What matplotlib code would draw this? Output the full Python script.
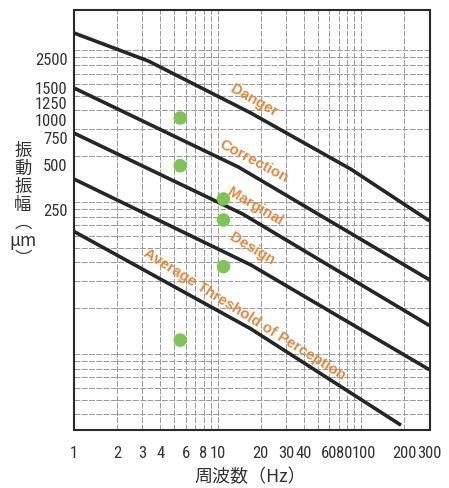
import matplotlib
matplotlib.use('Agg')
import matplotlib.pyplot as plt
from matplotlib import font_manager
from matplotlib.font_manager import FontProperties
from matplotlib.ticker import FixedLocator, FixedFormatter, NullFormatter
from matplotlib.transforms import ScaledTranslation

# ---------------- data ----------------
x_ticks = [1, 2, 3, 4, 6, 8, 10, 20, 30, 40, 60, 80, 100, 200, 300]
x_ticklabels = ['1', '2', '3', '4', '6', '8', '10', '20', '30', '40', '60', '80', '100', '200', '300']
x_minor = [5, 7, 9, 50, 70, 90]
y_ticks = [2500, 1500, 1250, 1000, 750, 500, 250]
y_ticklabels = ['2500', '1500', '1250', '1000', '750', '500', '250']

danger_f = [1, 3.3, 17, 85, 300]
danger_amp = [3625, 2370, 1080, 460, 210]
correction_f = [1, 14, 300]
correction_amp = [1575, 475, 86]
marginal_f = [1, 15, 300]
marginal_amp = [795, 233, 43]
design_f = [1, 17, 300]
design_amp = [396, 108, 22]
threshold_f = [1, 17, 190]
threshold_amp = [179, 41, 9.5]

point_f = [5.5, 5.5, 11, 11, 11, 5.5]
point_amp = [1000, 485, 293, 213, 105, 34.5]

zone_names = ['Danger', 'Correction', 'Marginal', 'Design', 'Average Threshold of Perception']
zone_label_f = [17.8, 18.0, 18.3, 17.3, 15.5]
zone_label_amp = [1320, 530, 265, 139, 52]
zone_label_rot = [-29.5, -28.0, -30.5, -31.0, -32.0]

# ---------------- fonts ----------------
def pick_narrow():
    prefs = ['Liberation Sans Narrow', 'Roboto Condensed', 'Open Sans Condensed',
             'Noto Sans Condensed', 'DejaVu Sans Condensed']
    entries = font_manager.fontManager.ttflist
    def is_regular(f):
        return f.style == 'normal' and f.weight in (400, 'normal', 'regular')
    for p in prefs:
        for f in entries:
            if f.name == p and is_regular(f):
                return FontProperties(fname=f.fname)
    for name in ['Roboto', 'Noto Sans', 'Open Sans', 'DejaVu Sans']:
        for f in entries:
            if f.name == name and is_regular(f) and 'condensed' in str(f.stretch):
                return FontProperties(fname=f.fname)
    for f in entries:
        if is_regular(f) and ('Narrow' in f.name or 'Condensed' in f.name
                              or 'condensed' in str(f.stretch)):
            return FontProperties(fname=f.fname)
    return FontProperties(family='Liberation Sans')

tick_font = pick_narrow()
tick_font.set_size(12)
cjk = ['Noto Sans CJK JP', 'DejaVu Sans']

line_color = '#262626'
grid_color = '#999999'
label_color = '#e0893a'
dot_color = '#7cc653'

fig = plt.figure(figsize=(4.49, 4.89), dpi=100)
fig.patch.set_facecolor('white')
ax = fig.add_axes([74 / 449, 1 - 431 / 489, 355.5 / 449, 420 / 489])
ax.set_xscale('log')
ax.set_yscale('log')
ax.set_xlim(1, 300)
ax.set_ylim(8.83, 5137)

ax.xaxis.set_major_locator(FixedLocator(x_ticks))
ax.xaxis.set_major_formatter(FixedFormatter(x_ticklabels))
ax.xaxis.set_minor_locator(FixedLocator(x_minor))
ax.xaxis.set_minor_formatter(NullFormatter())

# horizontal graph-paper grid (paper decades offset from the labels)
paper_base = 28.0
y_paper = [paper_base * m * 10.0 ** n for n in (-1, 0, 1, 2) for m in range(1, 10)]
y_paper = [v for v in y_paper if 8.83 < v < 5137]
ax.yaxis.set_major_locator(FixedLocator(y_ticks))
ax.yaxis.set_major_formatter(FixedFormatter(y_ticklabels))
ax.yaxis.set_minor_locator(FixedLocator(y_paper))
ax.yaxis.set_minor_formatter(NullFormatter())

gkw = dict(color=grid_color, linewidth=0.7, linestyle=(0, (6, 1.5)))
ax.grid(True, which='both', axis='x', **gkw)
ax.grid(True, which='minor', axis='y', **gkw)
ax.grid(False, which='major', axis='y')

ax.tick_params(which='both', length=0)
ax.tick_params(axis='y', which='major', pad=4.5)
ax.tick_params(axis='x', which='major', pad=10.5)

for s in ax.spines.values():
    s.set_linewidth(1.5)
    s.set_color('#2a2a2a')

# cosmetic nudges of crowded labels, as they sit in the reference
x_nudge = {'80': -3, '100': 3}
y_nudge = {'1500': 4.5, '1250': 1, '1000': -1.5}
for tick, txt in zip(ax.xaxis.get_major_ticks(), x_ticklabels):
    tick.label1.set_fontproperties(tick_font)
    tick.label1.set_color('#333333')
    if txt in x_nudge:
        tick.label1.set_transform(tick.label1.get_transform() +
                                  ScaledTranslation(x_nudge[txt] / 100, 0, fig.dpi_scale_trans))
for tick, txt in zip(ax.yaxis.get_major_ticks(), y_ticklabels):
    tick.label1.set_fontproperties(tick_font)
    tick.label1.set_color('#333333')
    if txt in y_nudge:
        tick.label1.set_transform(tick.label1.get_transform() +
                                  ScaledTranslation(0, y_nudge[txt] / 100, fig.dpi_scale_trans))

# lines
for f, a in [(danger_f, danger_amp), (correction_f, correction_amp),
             (marginal_f, marginal_amp), (design_f, design_amp),
             (threshold_f, threshold_amp)]:
    ax.plot(f, a, color=line_color, linewidth=2.6, solid_capstyle='butt', zorder=3)

ax.scatter(point_f, point_amp, s=95, color=dot_color, edgecolors='none', zorder=4)

for name, f, a, r in zip(zone_names, zone_label_f, zone_label_amp, zone_label_rot):
    ax.text(f, a, name, rotation=r, rotation_mode='anchor', ha='center', va='center',
            color=label_color, fontsize=10.8, fontweight='bold', family='Liberation Sans',
            zorder=5)

ax.set_ylabel('振\n動\n振\n幅\n︵\nμm\n︶', rotation=0, family=cjk, fontsize=12.5,
              linespacing=1.0, ha='center', va='center', color='#333333')
ax.yaxis.set_label_coords((23 - 74) / 355.5, (431 - 205) / 420)
ax.set_xlabel('周波数（Hz）', family=cjk, fontsize=13, va='center', color='#333333')
ax.xaxis.set_label_coords((250 - 74) / 355.5, (431 - 477) / 420)

fig.savefig('out.png', dpi=100, facecolor='white')
